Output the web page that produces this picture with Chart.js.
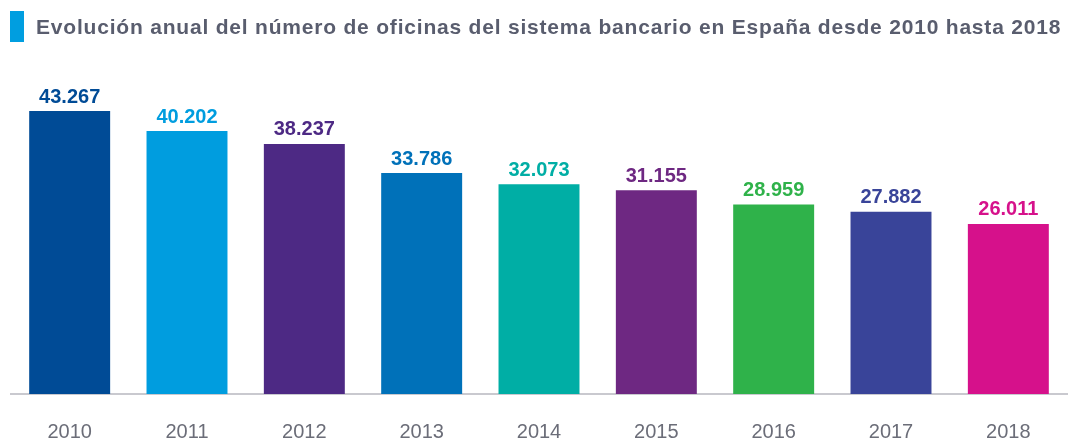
<!DOCTYPE html>
<html lang="es">
<head>
    <meta charset="UTF-8">
    <title>Oficinas del sistema bancario en España</title>
    <script src="https://cdn.jsdelivr.net/npm/chart.js"></script>
    <style>
        html, body {
            margin: 0;
            padding: 0;
            background: #ffffff;
            width: 1074px;
            height: 444px;
            overflow: hidden;
            font-family: "Liberation Sans", Arial, sans-serif;
        }
        .title {
            position: absolute;
            left: 10px;
            top: 11px;
            height: 31px;
            display: flex;
            align-items: center;
            white-space: nowrap;
            font-weight: bold;
            font-size: 21px;
            letter-spacing: 0.8px;
            color: #595d6e;
            z-index: 2;
        }
        .title .mark {
            display: inline-block;
            width: 14px;
            height: 31px;
            background: #009ee0;
            margin-right: 12px;
        }
        .chart-container {
            position: absolute;
            left: 0;
            top: 0;
            width: 1074px;
            height: 470px;
        }
    </style>
</head>
<body>

    <div class="title"><span class="mark"></span>Evolución anual del número de oficinas del sistema bancario en España desde 2010 hasta 2018</div>
    <div class="chart-container">
        <canvas id="oficinasChart"></canvas>
    </div>

    <script>
        // Datos
        const years = ['2010', '2011', '2012', '2013', '2014', '2015', '2016', '2017', '2018'];
        const offices = [43267, 40202, 38237, 33786, 32073, 31155, 28959, 27882, 26011];
        const barColors = ['#004b96', '#009ddf', '#4d2984', '#0071b9', '#00aea5', '#6e2882', '#2fb24a', '#394499', '#d6118b'];

        // Etiquetas de valor encima de cada barra (formato español: 43.267)
        const valueLabels = {
            id: 'valueLabels',
            afterDatasetsDraw(chart) {
                const ctx = chart.ctx;
                const meta = chart.getDatasetMeta(0);
                ctx.save();
                ctx.font = 'bold 20px "Liberation Sans", Arial, sans-serif';
                ctx.textAlign = 'center';
                ctx.textBaseline = 'bottom';
                meta.data.forEach((bar, i) => {
                    ctx.fillStyle = barColors[i];
                    ctx.fillText(offices[i].toLocaleString('de-DE'), bar.x, bar.y - 4);
                });
                ctx.restore();
            }
        };

        new Chart(document.getElementById('oficinasChart').getContext('2d'), {
            type: 'bar',
            data: {
                labels: years,
                datasets: [{
                    data: offices,
                    backgroundColor: barColors,
                    borderWidth: 0,
                    categoryPercentage: 1,
                    barPercentage: 0.69
                }]
            },
            options: {
                responsive: true,
                maintainAspectRatio: false,
                animation: false,
                layout: {
                    padding: { left: 11, right: 7, top: 67, bottom: 0 }
                },
                plugins: {
                    legend: { display: false },
                    tooltip: { enabled: false }
                },
                scales: {
                    x: {
                        grid: { display: false, drawTicks: false, tickLength: 0 },
                        border: { display: true, color: '#c9c9cf', width: 2 },
                        ticks: {
                            color: '#6b6d78',
                            padding: 26,
                            font: { family: '"Liberation Sans", Arial, sans-serif', size: 20 }
                        }
                    },
                    y: {
                        display: false,
                        min: 0,
                        max: 50000
                    }
                }
            },
            plugins: [valueLabels]
        });
    </script>

</body>
</html>
